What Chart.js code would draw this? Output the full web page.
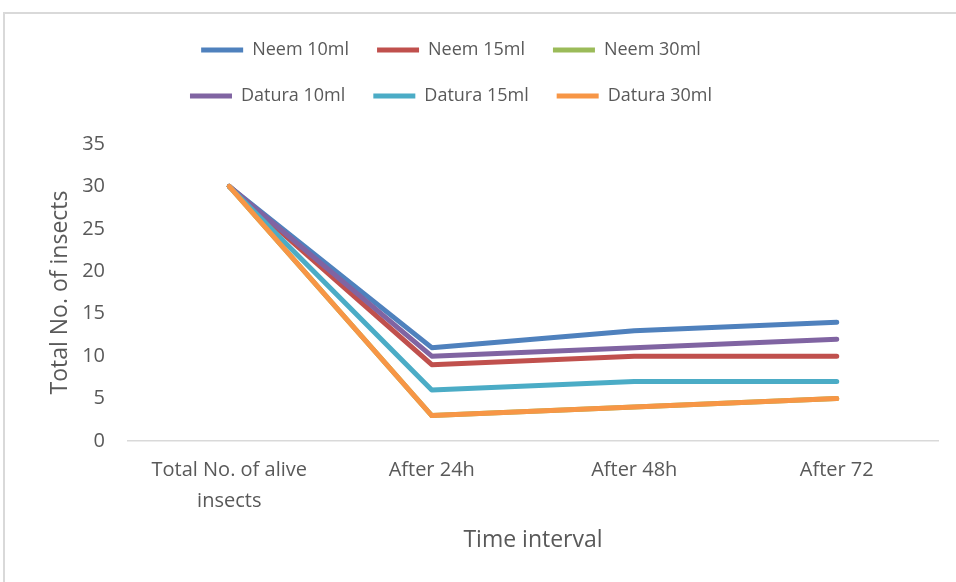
<!DOCTYPE html>
<html>
<head>
<meta charset="utf-8">
<script src="https://cdn.jsdelivr.net/npm/chart.js@4.4.0/dist/chart.umd.min.js"></script>
<style>
    body { margin: 0; background: #fff; }
    .chart_div { position: relative; width: 956px; height: 582px; overflow: hidden; }
    .frame { position: absolute; left: 3px; top: 12px; width: 1000px; height: 1000px;
             border-left: 2px solid #d9d9d9; border-top: 2px solid #d9d9d9; }
    canvas { position: absolute; left: 0; top: 0; }
</style>
</head>
<body>
<div class="chart_div">
    <div class="frame"></div>
    <canvas id="myChart" width="956" height="582"></canvas>
</div>
<script>
const timeLabels = [["Total No. of alive", "insects"], "After 24h", "After 48h", "After 72"];
const seriesNames = ["Neem 10ml", "Neem 15ml", "Neem 30ml", "Datura 10ml", "Datura 15ml", "Datura 30ml"];
const neem10 = [30, 11, 13, 14];
const neem15 = [30, 9, 10, 10];
const neem30 = [30, 3, 4, 5];
const datura10 = [30, 10, 11, 12];
const datura15 = [30, 6, 7, 7];
const datura30 = [30, 3, 4, 5];
const colors = ["#4f81bd", "#c0504d", "#9bbb59", "#8064a2", "#4bacc6", "#f79646"];

const textColor = "#595959";
const fontName = "'Open Sans', 'Noto Sans', sans-serif";

const allSeries = [neem10, neem15, neem30, datura10, datura15, datura30];
const datasets = allSeries.map((values, index) => {
    return {
        label: seriesNames[index],
        data: values,
        borderColor: colors[index],
        backgroundColor: colors[index],
        borderWidth: 5,
        borderCapStyle: "round",
        borderJoinStyle: "round",
        pointRadius: 0,
        pointStyle: "line",
        tension: 0,
        // excel paints later series on top
        order: allSeries.length - index
    };
});

// legend: 3 items per row, extra gap under it, shifted a bit left like the original
const legendTweak = {
    id: "legendTweak",
    beforeLayout(chart) {
        const lg = chart.legend;
        if (!lg || lg._tweaked) return;
        const orig = lg.update.bind(lg);
        lg.update = function (w, h, m) {
            orig(Math.min(w, 680), h, m);
            lg.height += 29;
        };
        lg._tweaked = true;
    },
    afterLayout(chart) {
        chart.legend.left -= 28;
        chart.legend.right -= 28;
    }
};

const ctx = document.getElementById("myChart");
var chart = new Chart(ctx, {
    type: "line",
    data: {
        labels: timeLabels,
        datasets: datasets
    },
    options: {
        responsive: false,
        animation: false,
        layout: {
            padding: { top: 13, left: 20, right: 18, bottom: 28 }
        },
        plugins: {
            tooltip: { enabled: false },
            legend: {
                position: "top",
                labels: {
                    usePointStyle: true,
                    pointStyleWidth: 42,
                    padding: 28,
                    color: textColor,
                    font: { family: fontName, size: 18 },
                    sort: (a, b) => a.datasetIndex - b.datasetIndex
                }
            }
        },
        scales: {
            x: {
                offset: true,
                grid: { display: false, drawTicks: false },
                border: { display: true, color: "#d9d9d9", width: 1.5 },
                afterFit: (scale) => { scale.height = 113; },
                ticks: {
                    padding: 14,
                    maxRotation: 0,
                    color: textColor,
                    font: { family: fontName, size: 20, lineHeight: 31 / 20 }
                },
                title: {
                    display: true,
                    text: "Time interval",
                    color: textColor,
                    font: { family: fontName, size: 23 },
                    padding: { top: 0, bottom: 0 }
                }
            },
            y: {
                min: 0,
                max: 35,
                grid: { display: false, drawTicks: false },
                border: { display: false },
                afterFit: (scale) => { scale.width = 108; },
                ticks: {
                    stepSize: 5,
                    padding: 23,
                    color: textColor,
                    font: { family: fontName, size: 20 }
                },
                title: {
                    display: true,
                    text: "Total No. of insects",
                    color: textColor,
                    font: { family: fontName, size: 23 },
                    padding: { top: 27, bottom: 0 }
                }
            }
        }
    },
    plugins: [legendTweak]
});
</script>
</body>
</html>
